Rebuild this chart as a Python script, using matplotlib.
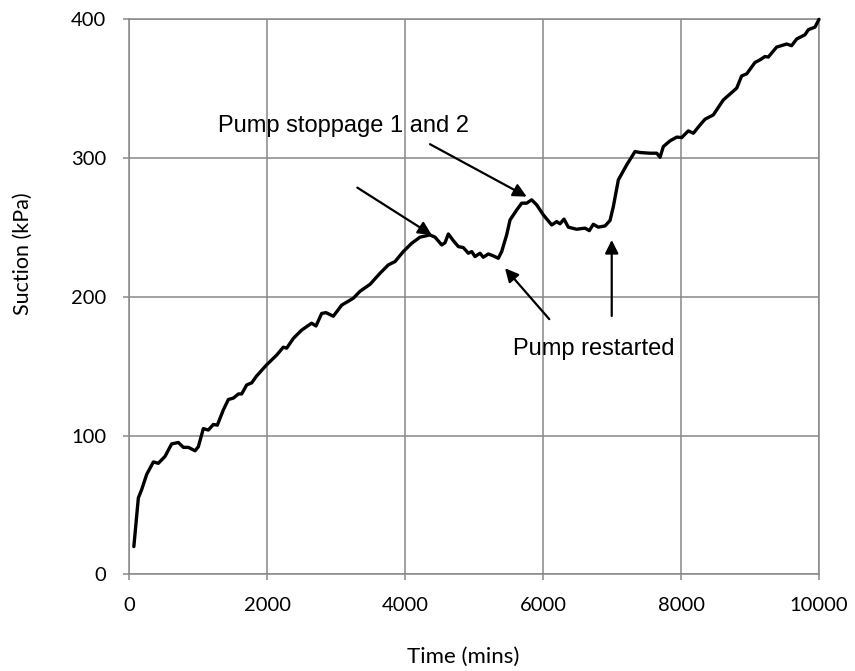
import numpy as np
import matplotlib
matplotlib.use("Agg")
import matplotlib.pyplot as plt

# suction record
time_min = [70, 135, 183, 256, 353, 425, 522, 618, 715, 788,
            861, 957, 1005, 1077, 1150, 1222, 1280, 1367, 1440, 1512,
            1585, 1633, 1705, 1778, 1850, 1995, 2140, 2236, 2285, 2381,
            2502, 2647, 2710, 2792, 2855, 2961, 3082, 3251, 3348, 3493,
            3638, 3758, 3855, 3975, 4097, 4217, 4362, 4435, 4532, 4580,
            4628, 4700, 4773, 4845, 4918, 4967, 5014, 5087, 5135, 5207,
            5280, 5352, 5401, 5473, 5522, 5619, 5691, 5763, 5836, 5908,
            6004, 6126, 6198, 6246, 6304, 6367, 6488, 6609, 6671, 6729,
            6801, 6899, 6971, 7019, 7092, 7213, 7333, 7406, 7551, 7648,
            7696, 7744, 7841, 7938, 8010, 8106, 8179, 8276, 8348, 8468,
            8613, 8807, 8879, 8952, 9072, 9145, 9217, 9265, 9386, 9531,
            9603, 9676, 9797, 9845, 9942, 10000]
suction_kpa = [20, 55, 61, 72, 81, 80, 85, 94, 95, 91.5,
               91.5, 89, 92, 105, 104, 108, 107.5, 118.5, 126, 127,
               130, 130, 136.5, 138, 143, 151, 158, 163.7, 163, 170,
               176, 181, 179, 188, 188.6, 186, 194, 199, 204, 209,
               217, 223, 225.4, 232.6, 238.6, 243, 244.6, 243, 237.4, 239,
               245.3, 240.5, 236.2, 235.5, 231.4, 232.6, 229, 231.4, 228.5, 230.9,
               229.5, 227.8, 232.6, 244.6, 255.4, 262.6, 267.5, 267.5, 269.9, 266.3,
               259.1, 251.8, 254.2, 252.6, 256, 250.2, 248.7, 249.5, 247.7, 252.3,
               250.2, 251.1, 255, 265, 284.3, 295.1, 304.7, 304, 303.5, 303.5,
               300.6, 308.3, 312.4, 315.1, 314.8, 319.6, 317.9, 323.9, 328, 331.1,
               341.9, 350.4, 359.2, 360.7, 368.9, 370.8, 373.2, 372.8, 380, 382.2,
               381, 385.8, 388.9, 392.5, 394.4, 400]

x_ticks = [0, 2000, 4000, 6000, 8000, 10000]
y_ticks = [0, 100, 200, 300, 400]

# arrows: (tail, head)
stop_arrows = [((3309, 278.7), (4387, 244.6)), ((4362, 310), (5764, 272.2))]
restart_arrows = [((6091, 183.9), (5449, 220.6)), ((6996, 186.2), (6996, 241))]

grid_col = "#888888"

fig = plt.figure(figsize=(8.55, 6.71), dpi=100)
ax = fig.add_axes([0.1509, 0.1441, 0.8070, 0.8271])

ax.plot(time_min, suction_kpa, color="black", lw=2.4,
        solid_joinstyle="round", solid_capstyle="round", clip_on=False, zorder=3)

ax.set_xlim(0, 10000)
ax.set_ylim(0, 400)
ax.set_xticks(x_ticks)
ax.set_yticks(y_ticks)
ax.grid(True, color=grid_col, lw=1.1)
ax.set_axisbelow(True)
for sp in ax.spines.values():
    sp.set_color(grid_col)
    sp.set_linewidth(1.1)
ax.tick_params(direction="out", length=4.3, width=1.1, color=grid_col,
               labelsize=14.5, pad=12)
for lab in ax.get_xticklabels() + ax.get_yticklabels():
    lab.set_family("Lato")

fig.text(463 / 855, 1 - 657 / 671, "Time (mins)", family="Lato",
         fontsize=16, ha="center", va="center")
fig.text(22.5 / 855, 1 - 254 / 671, "Suction (kPa)", family="Lato",
         fontsize=15.5, ha="center", va="center", rotation=90)

for tail, head in stop_arrows + restart_arrows:
    ax.annotate("", xy=head, xytext=tail,
                arrowprops=dict(arrowstyle="-|>", color="black", lw=1.6,
                                mutation_scale=20, shrinkA=0, shrinkB=0))

ax.text(1290, 318.9, "Pump stoppage 1 and 2", family="Liberation Sans",
        fontsize=17, ha="left", va="baseline")
ax.text(5561, 158.1, "Pump restarted", family="Liberation Sans",
        fontsize=17, ha="left", va="baseline")

fig.savefig("out.png", dpi=100)
